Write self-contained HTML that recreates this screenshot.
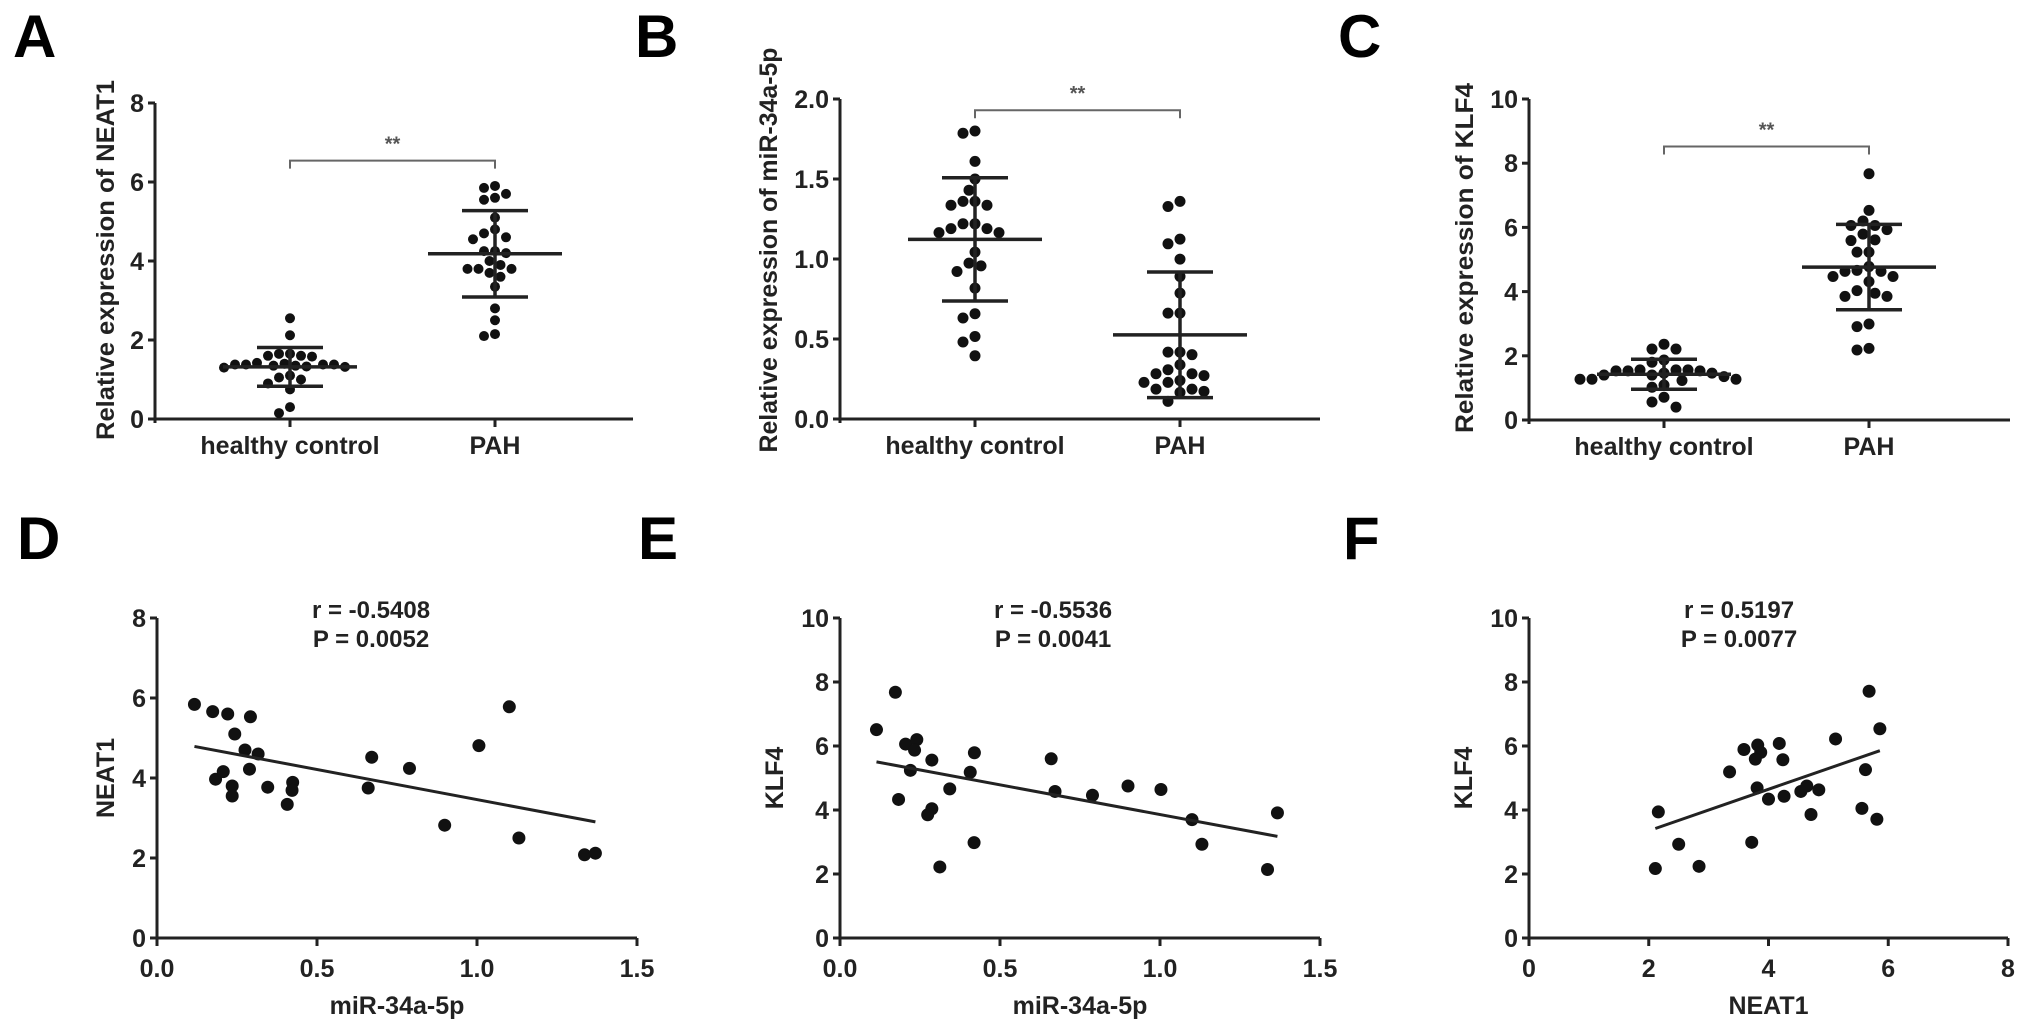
<!DOCTYPE html>
<html><head><meta charset="utf-8"><style>
html,body{margin:0;padding:0;background:#fff;}
svg{display:block;font-family:"Liberation Sans",Arial,sans-serif;font-weight:bold;}
</style></head><body>
<svg id="fig" width="2031" height="1031" viewBox="0 0 2031 1031" xmlns="http://www.w3.org/2000/svg"></svg>
<script>
// ---- data ----
const catLabels = ["healthy control", "PAH"];
const aCtrl = [2.55,2.12,1.65,1.6,1.65,1.6,1.58,1.38,1.35,1.38,1.35,1.33,1.3,1.32,1.38,1.4,1.42,1.38,1.1,1.05,1.0,0.9,0.75,0.3,0.15];
const aPah = [5.85,5.6,5.55,5.7,5.9,5.1,4.8,4.6,4.55,4.7,4.25,4.2,4.25,4.0,3.8,3.8,3.6,3.7,3.8,3.9,3.35,2.8,2.5,2.1,2.15];
const bCtrl = [1.786,1.80,1.61,1.50,1.43,1.36,1.336,1.336,1.36,1.22,1.19,1.165,1.165,1.19,1.22,1.043,0.974,0.957,0.922,0.818,0.631,0.658,0.516,0.481,0.395];
const bPah = [1.36,1.328,1.095,1.124,0.999,0.891,0.787,0.662,0.662,0.418,0.418,0.402,0.339,0.308,0.283,0.271,0.283,0.229,0.229,0.241,0.187,0.187,0.173,0.166,0.11];
const cCtrl = [1.87,2.21,2.21,2.36,1.80,1.46,1.56,1.40,1.53,1.53,1.56,1.53,1.56,1.40,1.46,1.35,1.27,1.27,1.23,1.27,1.09,1.02,0.71,0.56,0.40];
const cPah = [7.67,6.53,6.06,6.20,5.93,6.06,5.59,5.79,5.61,5.23,5.23,4.78,4.63,4.47,4.47,4.63,4.66,4.31,3.95,3.85,3.85,4.03,2.99,2.91,2.18,2.23];
const dX = [0.117,0.174,0.221,0.292,0.243,0.275,0.316,0.289,0.183,0.207,0.235,0.235,0.346,0.424,0.422,0.407,0.671,0.660,0.789,1.006,1.101,0.899,1.131,1.336,1.370];
const dY = [5.84,5.66,5.60,5.53,5.10,4.70,4.60,4.22,3.97,4.16,3.80,3.55,3.77,3.89,3.69,3.34,4.52,3.75,4.24,4.81,5.78,2.82,2.50,2.08,2.12];
const eX = [0.114,0.173,0.205,0.240,0.233,0.220,0.287,0.183,0.343,0.287,0.274,0.420,0.407,0.419,0.312,0.660,0.672,0.789,0.900,1.003,1.100,1.131,1.336,1.367];
const eY = [6.51,7.68,6.06,6.20,5.87,5.24,5.56,4.33,4.66,4.04,3.85,5.79,5.18,2.98,2.22,5.60,4.58,4.46,4.75,4.64,3.70,2.93,2.14,3.91];
const fX = [2.16,2.11,2.50,2.84,3.35,3.59,3.82,3.87,3.78,3.81,4.00,3.72,4.18,4.24,4.26,4.54,4.64,4.84,4.71,5.12,5.62,5.56,5.68,5.86,5.81];
const fY = [3.94,2.17,2.93,2.24,5.19,5.89,6.03,5.80,5.59,4.69,4.34,2.99,6.08,5.57,4.43,4.58,4.75,4.63,3.86,6.22,5.26,4.05,7.71,6.54,3.71];
const yTicksA = ["0","2","4","6","8"];
const yTicksB = ["0.0","0.5","1.0","1.5","2.0"];
const yTicks10 = ["0","2","4","6","8","10"];
const xTicksMir = ["0.0","0.5","1.0","1.5"];
const xTicksNeat = ["0","2","4","6","8"];
const statsD = ["r = -0.5408","P = 0.0052"];
const statsE = ["r = -0.5536","P = 0.0041"];
const statsF = ["r = 0.5197","P = 0.0077"];

const NS = "http://www.w3.org/2000/svg";
const svg = document.getElementById("fig");
function mk(tag, attrs, parent){
  const e = document.createElementNS(NS, tag);
  for (const k in attrs) e.setAttribute(k, attrs[k]);
  (parent||svg).appendChild(e);
  return e;
}
function txt(s, attrs, parent){ const e = mk("text", attrs, parent); e.textContent = s; return e; }

function panelLetter(ch, x, y){
  const t = txt(ch, {x:x, y:y, "font-size":60, fill:"#000"});
  
  
}

function yAxis(g, ax, y0, yTop, vmax, ticks, name){
  const ys = v => y0 - (v / vmax) * (y0 - yTop);
  const l = mk("line", {x1:ax, y1:y0+4, x2:ax, y2:yTop, stroke:"#222", "stroke-width":3}, g);
  
  
  ticks.forEach(s => {
    const v = parseFloat(s);
    mk("line", {x1:ax-7, y1:ys(v), x2:ax, y2:ys(v), stroke:"#222", "stroke-width":3}, g);
    const t = txt(s, {x:ax-11, y:ys(v)+9, "text-anchor":"end", "font-size":25, fill:"#222"}, g);
    
    
  });
  return ys;
}
function yTitle(g, s, cx, cy, len, name){
  const t = txt(s, {x:0, y:0, transform:`translate(${cx},${cy}) rotate(-90)`, "text-anchor":"middle", "dominant-baseline":"central", "font-size":25, fill:"#222", textLength:len, lengthAdjust:"spacingAndGlyphs"}, g);
  
  
}

function swarm(vals, cx, ys, r){
  const order = vals.map((v,i)=>i).sort((a,b)=>vals[b]-vals[a]);
  const placed = []; const pos = [];
  const d = 2*r + 1;
  order.forEach(i => {
    const y = ys(vals[i]);
    let best = null;
    for (let k=0;k<40 && best===null;k++){
      const cands = k===0 ? [0] : [-k*d/2, k*d/2];
      for (const off of cands){
        const x = cx + off;
        if (placed.every(p => (p[0]-x)**2 + (p[1]-y)**2 >= d*d*0.95)) { best = x; break; }
      }
    }
    placed.push([best, y]); pos[i] = [best, y];
  });
  return pos;
}
function meanSd(a){
  const m = a.reduce((s,v)=>s+v,0)/a.length;
  const sd = Math.sqrt(a.reduce((s,v)=>s+(v-m)**2,0)/(a.length-1));
  return [m, sd];
}

function dotPanel(cfg){
  const g = mk("g", {});
  
  
  const ys = yAxis(g, cfg.ax, cfg.y0, cfg.yTop, cfg.vmax, cfg.ticks, cfg.name);
  const xa = mk("line", {x1:cfg.ax-7, y1:cfg.y0, x2:cfg.xEnd, y2:cfg.y0, stroke:"#222", "stroke-width":3}, g);
  
  
  const cxs = [cfg.ax + 135, cfg.ax + 340];
  [cfg.ctrl, cfg.pah].forEach((vals, ci) => {
    const cx = cxs[ci];
    mk("line", {x1:cx, y1:cfg.y0, x2:cx, y2:cfg.y0+8, stroke:"#222", "stroke-width":3}, g);
    const cl = txt(catLabels[ci], {x:cx, y:cfg.y0+35, "text-anchor":"middle", "font-size":25, fill:"#222"}, g);
    
    
    const pos = swarm(vals, cx, ys, cfg.r);
    pos.forEach(p => {
      const c = mk("circle", {cx:p[0], cy:p[1], r:cfg.r, fill:"#111"}, g);
      
      
    });
    const [m, sd] = meanSd(vals);
    const eg = mk("g", {stroke:"#222", "stroke-width":3.5}, g);
    
    
    mk("line", {x1:cx-67, y1:ys(m), x2:cx+67, y2:ys(m)}, eg);
    mk("line", {x1:cx, y1:ys(m-sd), x2:cx, y2:ys(m+sd)}, eg);
    mk("line", {x1:cx-33, y1:ys(m-sd), x2:cx+33, y2:ys(m-sd)}, eg);
    mk("line", {x1:cx-33, y1:ys(m+sd), x2:cx+33, y2:ys(m+sd)}, eg);
  });
  const by = ys(cfg.bracket);
  const br = mk("path", {d:`M${cxs[0]},${by+8} V${by} H${cxs[1]} V${by+8}`, fill:"none", stroke:"#666", "stroke-width":2}, g);
  
  
  const st = txt("**", {x:(cxs[0]+cxs[1])/2, y:by-10, "text-anchor":"middle", "font-size":20, fill:"#555"}, g);
  
  
  yTitle(g, cfg.title, cfg.tx, cfg.tcy, cfg.tlen, cfg.name);
}

function scatterPanel(cfg){
  const g = mk("g", {});
  
  
  const ys = yAxis(g, cfg.ax, cfg.y0, cfg.yTop, cfg.vmax, cfg.ticks, cfg.name);
  const xs = v => cfg.ax + (v / cfg.xmax) * (cfg.xEnd - cfg.ax);
  const xa = mk("line", {x1:cfg.ax-7, y1:cfg.y0, x2:cfg.xEnd, y2:cfg.y0, stroke:"#222", "stroke-width":3}, g);
  
  
  cfg.xticks.forEach(s => {
    const v = parseFloat(s);
    mk("line", {x1:xs(v), y1:cfg.y0, x2:xs(v), y2:cfg.y0+8, stroke:"#222", "stroke-width":3}, g);
    const t = txt(s, {x:xs(v), y:cfg.y0+39, "text-anchor":"middle", "font-size":25, fill:"#222"}, g);
    
    
  });
  cfg.X.forEach((x,i) => {
    const c = mk("circle", {cx:xs(x), cy:ys(cfg.Y[i]), r:6.5, fill:"#111"}, g);
    
    
  });
  const n = cfg.X.length;
  const mx = cfg.X.reduce((s,v)=>s+v,0)/n, my = cfg.Y.reduce((s,v)=>s+v,0)/n;
  let sxy=0, sxx=0;
  cfg.X.forEach((x,i)=>{ sxy += (x-mx)*(cfg.Y[i]-my); sxx += (x-mx)**2; });
  const b = sxy/sxx, a = my - b*mx;
  const x0 = Math.min(...cfg.X), x1 = Math.max(...cfg.X);
  const rl = mk("line", {x1:xs(x0), y1:ys(a+b*x0), x2:xs(x1), y2:ys(a+b*x1), stroke:"#222", "stroke-width":3}, g);
  
  
  cfg.stats.forEach((s,i) => {
    const t = txt(s, {x:cfg.sx, y:cfg.y0 - 320 + i*29, "text-anchor":"middle", "font-size":24, fill:"#222"}, g);
    
    
  });
  const xt = txt(cfg.xtitle, {x:(cfg.ax+cfg.xEnd)/2, y:cfg.y0+76, "text-anchor":"middle", "font-size":25, fill:"#222"}, g);
  
  
  const yt = txt(cfg.ytitle, {x:0, y:0, transform:`translate(${cfg.tx},${cfg.y0-160}) rotate(-90)`, "text-anchor":"middle", "dominant-baseline":"central", "font-size":25, fill:"#222"}, g);
  
  
}

panelLetter("A", 13, 57); panelLetter("B", 635, 57); panelLetter("C", 1338, 57);
panelLetter("D", 17, 559); panelLetter("E", 638, 559); panelLetter("F", 1343, 559);

dotPanel({name:"panel-a", ax:155, y0:419, yTop:103, vmax:8, xEnd:633, ticks:yTicksA, ctrl:aCtrl, pah:aPah, r:5, bracket:6.54, title:"Relative expression of NEAT1", tx:106, tcy:260, tlen:360});
dotPanel({name:"panel-b", ax:840, y0:419, yTop:99, vmax:2, xEnd:1320, ticks:yTicksB, ctrl:bCtrl, pah:bPah, r:5.5, bracket:1.93, title:"Relative expression of miR-34a-5p", tx:769, tcy:250, tlen:405});
dotPanel({name:"panel-c", ax:1529, y0:420, yTop:99, vmax:10, xEnd:2010, ticks:yTicks10, ctrl:cCtrl, pah:cPah, r:5.5, bracket:8.52, title:"Relative expression of KLF4", tx:1465, tcy:258, tlen:350});

scatterPanel({name:"panel-d", ax:157, y0:938, yTop:618, vmax:8, xEnd:637, xmax:1.5, ticks:yTicksA, xticks:xTicksMir, X:dX, Y:dY, stats:statsD, sx:371, xtitle:"miR-34a-5p", ytitle:"NEAT1", tx:106});
scatterPanel({name:"panel-e", ax:840, y0:938, yTop:618, vmax:10, xEnd:1320, xmax:1.5, ticks:yTicks10, xticks:xTicksMir, X:eX, Y:eY, stats:statsE, sx:1053, xtitle:"miR-34a-5p", ytitle:"KLF4", tx:775});
scatterPanel({name:"panel-f", ax:1529, y0:938, yTop:618, vmax:10, xEnd:2008, xmax:8, ticks:yTicks10, xticks:xTicksNeat, X:fX, Y:fY, stats:statsF, sx:1739, xtitle:"NEAT1", ytitle:"KLF4", tx:1464});
</script>
</body></html>
